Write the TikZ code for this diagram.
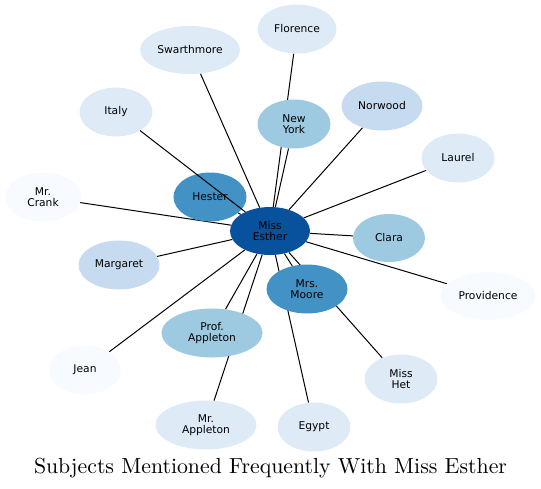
\documentclass[tikz,border=0pt]{standalone}
\usepackage{fontspec}
\setsansfont{DejaVu Sans}
\usetikzlibrary{shapes.geometric}
\pgfdeclarelayer{background}
\pgfdeclarelayer{foreground}
\pgfsetlayers{background,main,foreground}
\definecolor{cA}{HTML}{08519C}
\definecolor{cB}{HTML}{4292C6}
\definecolor{cC}{HTML}{9ECAE1}
\definecolor{cD}{HTML}{C6DBEF}
\definecolor{cE}{HTML}{DEEBF7}
\definecolor{cF}{HTML}{F7FBFF}
\tikzset{
  nd/.style={ellipse, draw=none, inner sep=0pt, minimum width=73pt, minimum height=49pt,
    align=center, font=\sffamily\fontsize{10.7}{11.5}\selectfont, text=black},
  edge/.style={draw=black, line width=1pt}
}
\begin{document}
\begin{tikzpicture}[x=1pt,y=-1pt]
\useasboundingbox (0,0) rectangle (541,488);
\node[nd, fill=cA, minimum width=80pt, minimum height=48pt] (esther) at (270,231) {Miss\\Esther};
\node[nd, fill=cB] (hester) at (210,197) {Hester};
\node[nd, fill=cC] (newyork) at (294,124) {New\\York};
\node[nd, fill=cE, minimum width=79pt] (florence) at (297,29) {Florence};
\node[nd, fill=cE, minimum width=100pt, minimum height=48pt] (swarth) at (190,50) {Swarthmore};
\node[nd, fill=cE] (italy) at (116,112) {Italy};
\node[nd, fill=cF, minimum width=76pt] (crank) at (43,197) {Mr.\\Crank};
\node[nd, fill=cD, minimum width=81pt] (norwood) at (382,106) {Norwood};
\node[nd, fill=cE] (laurel) at (458,158) {Laurel};
\node[nd, fill=cC, minimum width=72pt, minimum height=48pt] (clara) at (389,238) {Clara};
\node[nd, fill=cF, minimum width=95pt, minimum height=48pt] (prov) at (488,296) {Providence};
\node[nd, fill=cB, minimum width=81pt] (moore) at (307,289) {Mrs.\\Moore};
\node[nd, fill=cE] (het) at (401,379) {Miss\\Het};
\node[nd, fill=cE] (egypt) at (314,427) {Egypt};
\node[nd, fill=cD, minimum width=81pt] (margaret) at (119,265) {Margaret};
\node[nd, fill=cC, minimum width=101pt] (prof) at (212,333) {Prof.\\Appleton};
\node[nd, fill=cF, minimum width=72pt] (jean) at (85,370) {Jean};
\node[nd, fill=cE, minimum width=101pt] (mrapp) at (206,425) {Mr.\\Appleton};
\begin{pgfonlayer}{background}
\foreach \t in {hester,newyork,florence,swarth,crank,norwood,laurel,clara,prov,moore,het,egypt,margaret,prof,jean,mrapp}
  \draw[edge] (esther) -- (\t);
\end{pgfonlayer}
\begin{pgfonlayer}{foreground}
\draw[edge] (esther) -- (italy);
\end{pgfonlayer}
\node[anchor=base] (title) at (270.5,473) {\resizebox{473pt}{!}{\fontsize{10}{12}\selectfont Subjects Mentioned Frequently With Miss Esther}};
\end{tikzpicture}
\end{document}
